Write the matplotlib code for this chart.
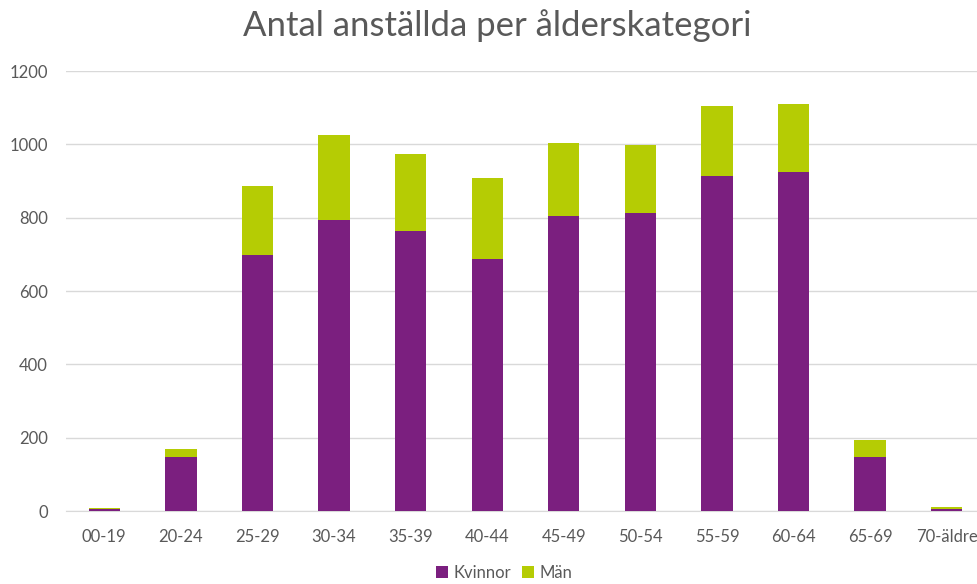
"""Stacked bar chart: employees per age category, women and men."""

import matplotlib.pyplot as plt
import numpy as np

categories = ["00-19", "20-24", "25-29", "30-34", "35-39", "40-44",
              "45-49", "50-54", "55-59", "60-64", "65-69", "70-äldre"]
kvinnor = [5, 147, 697, 793, 765, 686, 805, 812, 915, 924, 146, 5]
man = [3, 22, 190, 233, 209, 223, 199, 187, 190, 187, 47, 6]
y_ticks = [0, 200, 400, 600, 800, 1000, 1200]

PURPLE = "#7B1F7F"
GREEN = "#B5CC04"
TEXT = "#595959"
GRID = "#D9D9D9"

plt.rcParams["font.family"] = ["Lato", "DejaVu Sans"]

fig = plt.figure(figsize=(9.77, 5.84), dpi=100)
ax = fig.add_axes([66 / 977, 73 / 584, 919 / 977, 440 / 584])

x = np.arange(len(categories))
ax.bar(x, kvinnor, width=0.41, color=PURPLE, label="Kvinnor", zorder=3)
ax.bar(x, man, width=0.41, bottom=kvinnor, color=GREEN, label="Män", zorder=3)

ax.set_xlim(-0.5, len(categories) - 0.5)
ax.set_ylim(0, 1200)
ax.set_yticks(y_ticks)
ax.set_xticks(x, labels=categories)
ax.tick_params(axis="both", length=0, colors=TEXT, labelsize=12)
ax.tick_params(axis="x", pad=13)
ax.tick_params(axis="y", pad=13)
ax.grid(axis="y", color=GRID, linewidth=1, zorder=0)
for side in ["top", "right", "left"]:
    ax.spines[side].set_visible(False)
ax.spines["bottom"].set_color(GRID)

fig.text(0.509, 0.957, "Antal anställda per ålderskategori", ha="center", va="center",
         fontsize=25, color=TEXT)

fig.legend(loc="lower center", bbox_to_anchor=(0.516, -0.02), ncol=2, frameon=False,
           fontsize=12, labelcolor=TEXT, handlelength=0.7, handleheight=0.7,
           handletextpad=0.3, columnspacing=0.7)

fig.savefig("out.png", dpi=100)
